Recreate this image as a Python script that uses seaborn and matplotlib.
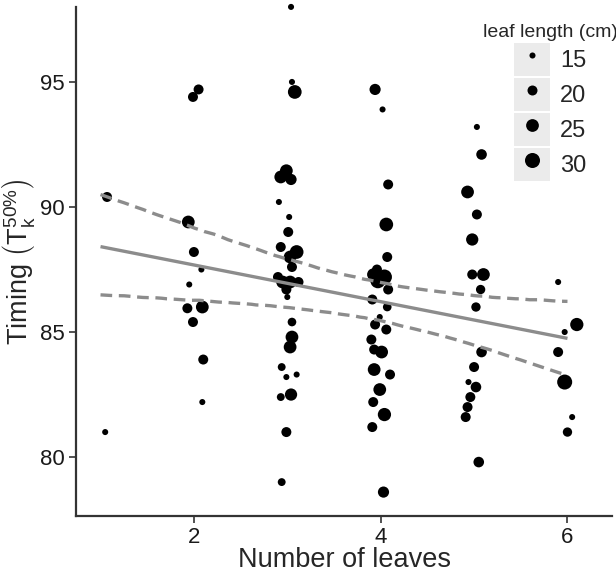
import numpy as np
import pandas as pd
import matplotlib
matplotlib.use('Agg')
import matplotlib.pyplot as plt
import seaborn as sns
from matplotlib.lines import Line2D
from matplotlib.patches import Patch
from matplotlib.legend_handler import HandlerTuple

# plotted (jittered) leaf count, timing and leaf length, one block per leaf count
x_one = [1.07, 1.05]
t_one = [90.4, 81.0]
len_one = [20, 15]

x_two = [2.05, 1.99, 1.94, 2.00, 2.08, 1.95, 1.93, 2.09, 1.99, 2.10, 2.09]
t_two = [94.7, 94.4, 89.4, 88.2, 87.5, 86.9, 85.95, 86.0, 85.4, 83.9, 82.2]
len_two = [20, 20, 25, 20, 15, 15, 20, 25, 20, 20, 15]

x_three = [3.04, 3.05, 3.08, 2.93, 2.99, 3.04, 2.91, 3.02, 3.01, 2.93, 3.10,
           3.03, 3.05, 2.90, 2.95, 3.03, 3.12, 2.99, 3.00, 3.05, 3.05, 3.03,
           2.94, 2.99, 3.10, 2.93, 3.04, 2.99, 2.94]
t_three = [98.0, 95.0, 94.6, 91.2, 91.45, 91.1, 90.2, 89.6, 89.0, 88.4, 88.2,
           88.0, 87.6, 87.2, 87.0, 87.0, 87.0, 86.7, 86.4, 85.4, 84.8, 84.4,
           83.6, 83.2, 83.3, 82.4, 82.5, 81.0, 79.0]
len_three = [15, 15, 27, 25, 25, 22, 15, 15, 20, 20, 27,
             25, 20, 20, 25, 25, 20, 20, 15, 18, 25, 25,
             17, 15, 12, 17, 24, 20, 17]

x_four = [3.94, 4.02, 4.08, 4.06, 4.07, 3.96, 4.04, 3.97, 3.92, 4.08, 3.91,
          4.07, 3.99, 3.94, 4.06, 3.90, 3.93, 4.01, 3.93, 4.10, 3.99, 3.92,
          4.04, 3.91, 4.03]
t_four = [94.7, 93.9, 90.9, 89.3, 88.0, 87.5, 87.2, 87.05, 87.3, 86.7, 86.3,
          86.0, 85.6, 85.3, 85.1, 84.7, 84.3, 84.2, 83.5, 83.3, 82.7, 82.2,
          81.7, 81.2, 78.6]
len_four = [22, 15, 20, 27, 20, 20, 31, 30, 24, 20, 20,
            18, 15, 20, 20, 20, 20, 25, 25, 20, 25, 20,
            26, 20, 22]

x_five = [5.03, 5.08, 4.93, 5.03, 4.98, 4.98, 5.10, 5.07, 5.02, 5.08, 5.00,
          4.94, 5.02, 4.96, 4.93, 4.91, 5.05]
t_five = [93.2, 92.1, 90.6, 89.7, 88.7, 87.3, 87.3, 86.7, 86.0, 84.2, 83.6,
          83.0, 82.8, 82.4, 82.0, 81.6, 79.8]
len_five = [15, 21, 25, 20, 24, 20, 25, 19, 19, 21, 20,
            15, 21, 20, 20, 20, 21]

x_six = [5.90, 6.10, 5.97, 5.90, 5.97, 6.05, 6.00]
t_six = [87.0, 85.3, 85.0, 84.2, 83.0, 81.6, 81.0]
len_six = [15, 26, 15, 20, 30, 15, 19]

legend_lengths = [15, 20, 25, 30]

df = pd.DataFrame({
    'x': x_one + x_two + x_three + x_four + x_five + x_six,
    'timing': t_one + t_two + t_three + t_four + t_five + t_six,
    'length': len_one + len_two + len_three + len_four + len_five + len_six,
})
df['leaves'] = np.rint(df['x'])

sns.set_theme(style='ticks')
plt.rcParams['font.family'] = ['Liberation Sans', 'DejaVu Sans']
plt.rcParams['mathtext.fontset'] = 'custom'
plt.rcParams['mathtext.rm'] = 'Liberation Sans'
plt.rcParams['mathtext.it'] = 'Liberation Sans:italic'

fig = plt.figure(figsize=(6.16, 5.76), dpi=100)
ax = fig.add_axes([0.123, 0.104, 0.871, 0.884])

size_range = (19, 117)
size_norm = (15, 30)
sns.scatterplot(data=df, x='x', y='timing', size='length', sizes=size_range,
                size_norm=size_norm, color='black', edgecolor='none',
                legend=False, clip_on=False, ax=ax, zorder=2)

# regression of timing on (unjittered) leaf count with 95% band drawn dashed
sns.regplot(data=df, x='leaves', y='timing', scatter=False, ci=95,
            n_boot=2000, seed=3, color='#8c8c8c',
            line_kws=dict(lw=2.4, solid_capstyle='butt', zorder=3), ax=ax)
band = ax.collections[-1]
verts = band.get_paths()[0].vertices
bx = np.round(verts[:, 0], 6)
grid = np.unique(bx)
upper = np.array([verts[bx == g, 1].max() for g in grid])
lower = np.array([verts[bx == g, 1].min() for g in grid])
band.remove()
for yy in (upper, lower):
    ax.plot(grid, yy, color='#8c8c8c', lw=2.4, ls=(0, (3.5, 2)), zorder=3)

ax.set_xlim(0.735, 6.48)
ax.set_ylim(77.64, 98.0)
ax.set_xticks([2, 4, 6])
ax.set_yticks([80, 85, 90, 95])
ax.tick_params(labelsize=16, length=5, width=1.2, color='#333333',
               labelcolor='#1a1a1a', pad=3)
for side in ('left', 'bottom'):
    ax.spines[side].set_linewidth(1.6)
    ax.spines[side].set_color('#333333')
sns.despine(ax=ax)
ax.set_xlabel('Number of leaves', fontsize=19.5, labelpad=-1)
ax.set_ylabel(r'Timing $\left(\mathrm{T_k^{50\%}}\right)$', fontsize=19.5,
              labelpad=2)

lo, hi = size_norm
handles = []
for v in legend_lengths:
    s = size_range[0] + (v - lo) / (hi - lo) * (size_range[1] - size_range[0])
    dot = Line2D([], [], ls='none', marker='o', color='black',
                 markeredgewidth=0, markersize=np.sqrt(s))
    box = Patch(facecolor='#ebebeb', edgecolor='none')
    handles.append((box, dot))
ax.legend(handles, [str(v) for v in legend_lengths],
          handler_map={tuple: HandlerTuple(ndivide=1)},
          title='leaf length (cm)', title_fontsize=14, fontsize=17,
          frameon=False, loc='upper left', bbox_to_anchor=(0.768, 0.975),
          bbox_transform=fig.transFigure, handlelength=1.55,
          handleheight=1.75, labelspacing=0.1, handletextpad=0.4,
          borderaxespad=0, alignment='center')

fig.savefig('out.png', dpi=100)
